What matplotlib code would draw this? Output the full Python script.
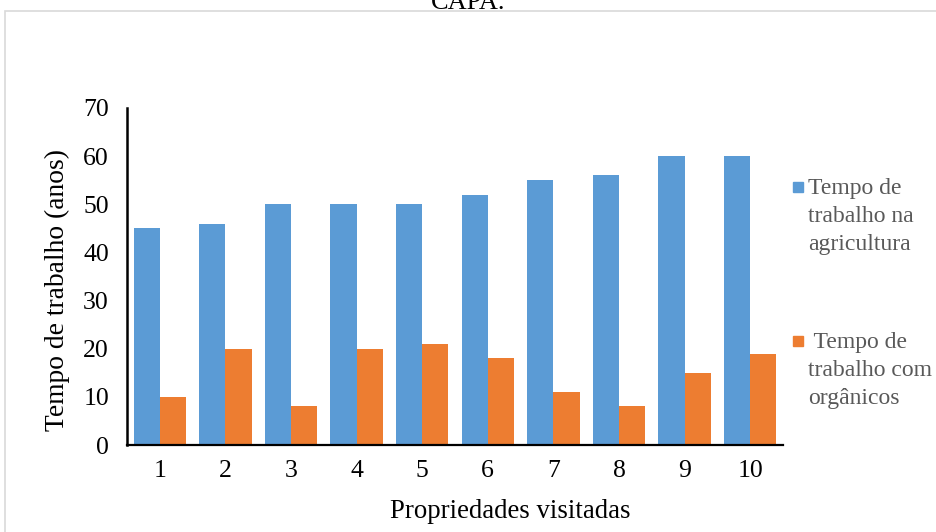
import numpy as np
import matplotlib
matplotlib.use('Agg')
import matplotlib.pyplot as plt
from matplotlib.patches import Rectangle

plt.rcParams['font.family'] = ['Liberation Serif', 'DejaVu Serif']

propriedades = ['1', '2', '3', '4', '5', '6', '7', '8', '9', '10']
tempo_agricultura = [45, 46, 50, 50, 50, 52, 55, 56, 60, 60]
tempo_organicos = [10, 20, 8, 20, 21, 18, 11, 8, 15, 19]

label_agricultura = 'Tempo de\ntrabalho na\nagricultura'
label_organicos = ' Tempo de\ntrabalho com\norgânicos'

azul = '#5B9BD5'
laranja = '#ED7D31'
W, H = 936, 532

fig = plt.figure(figsize=(9.36, 5.32), dpi=100)
ax = fig.add_axes([127 / W, 1 - 445 / H, (783 - 127) / W, (445 - 108) / H])

x = np.arange(1, len(propriedades) + 1)
ax.bar(x - 0.2, tempo_agricultura, width=0.4, color=azul)
ax.bar(x + 0.2, tempo_organicos, width=0.4, color=laranja)

ax.set_xlim(0.5, len(propriedades) + 0.5)
ax.set_ylim(0, 70)
ax.set_yticks(range(0, 71, 10))
ax.set_xticks(x)
ax.set_xticklabels(propriedades)
ax.tick_params(axis='both', length=0, labelsize=18.5, colors='black')
ax.tick_params(axis='y', pad=13)
ax.tick_params(axis='x', pad=11)

for s in ['top', 'right']:
    ax.spines[s].set_visible(False)
ax.spines['left'].set_linewidth(1.8)
ax.spines['bottom'].set_linewidth(1.6)

fig.text(510 / W, 1 - 511 / H, 'Propriedades visitadas', ha='center', va='center', fontsize=19.3)
fig.text(57 / W, 1 - 290 / H, 'Tempo de trabalho (anos)', ha='center', va='center',
         rotation=90, fontsize=19.8)

# legend drawn by hand so the swatch sits on the first line of text
def entrada(y_px, cor, texto):
    fig.patches.append(Rectangle((793 / W, 1 - (y_px + 5) / H), 10 / W, 10 / H,
                                 transform=fig.transFigure, color=cor))
    fig.text(808 / W, 1 - (y_px - 9) / H, texto, ha='left', va='top', fontsize=17,
             color='#595959', linespacing=1.43)

entrada(187, azul, label_agricultura)
entrada(341, laranja, label_organicos)

# outer frame and cropped caption above it
fig.patches.append(Rectangle((5 / W, -0.1), 2, (H - 11) / H + 0.1, transform=fig.transFigure,
                             fill=False, edgecolor='#D9D9D9', linewidth=1.2))
fig.text(468 / W, 1 - 9 / H, 'CAPA.', ha='center', va='baseline', fontsize=19)

fig.savefig('out.png', dpi=100)
